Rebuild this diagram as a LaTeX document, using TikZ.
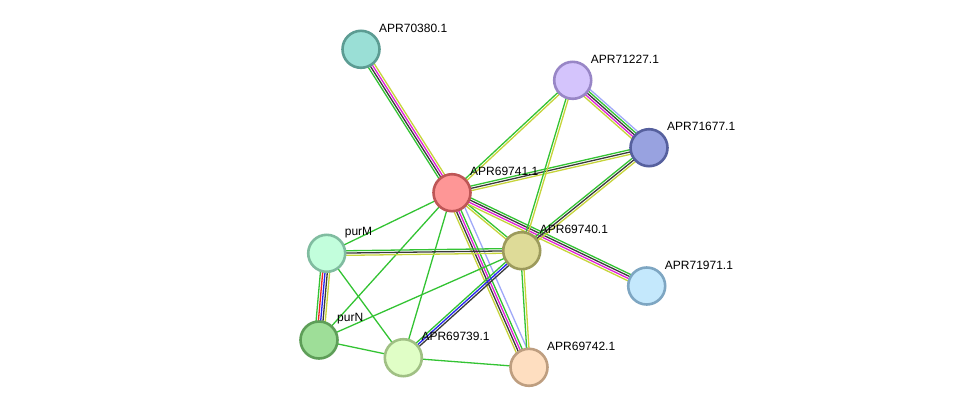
\documentclass[tikz,border=0pt]{standalone}
\usepackage{fontspec}
\setmainfont{Liberation Sans}
\usetikzlibrary{calc}
% colores de evidencia
\definecolor{cvecino}{HTML}{33C333}
\definecolor{ctexto}{HTML}{C6D43A}
\definecolor{cnegro}{HTML}{3A3A3A}
\definecolor{cmagenta}{HTML}{E020D8}
\definecolor{clila}{HTML}{9FA8F8}
\definecolor{cazul}{HTML}{2424F0}
\definecolor{crojo}{HTML}{F02424}
% colores de nodos
\definecolor{fa}{HTML}{9ADFD6}\definecolor{ba}{HTML}{5C9C93}
\definecolor{fb}{HTML}{D4C4FC}\definecolor{bb}{HTML}{9886C6}
\definecolor{fc}{HTML}{98A2E0}\definecolor{bc}{HTML}{56609E}
\definecolor{fd}{HTML}{FE9696}\definecolor{bd}{HTML}{BE5656}
\definecolor{fe}{HTML}{C2FEDC}\definecolor{be}{HTML}{80BCA0}
\definecolor{ff}{HTML}{DEDB98}\definecolor{bf}{HTML}{9C9A5C}
\definecolor{fg}{HTML}{C4E8FC}\definecolor{bg}{HTML}{7EA6C2}
\definecolor{fh}{HTML}{9EDE98}\definecolor{bh}{HTML}{5E9E58}
\definecolor{fi}{HTML}{E0FEC6}\definecolor{bi}{HTML}{A0C084}
\definecolor{fj}{HTML}{FEDEC0}\definecolor{bj}{HTML}{BE9E80}
\tikzset{
  proteina/.style={circle,minimum size=37pt,inner sep=0pt,line width=2.6pt},
  etiq/.style={font=\fontsize{12}{14}\selectfont,anchor=west,inner sep=0pt},
  traza/.style={line width=1.3pt},
}
% #1,#2 nodos, #3 cantidad de lineas, #4 colores
\newcommand\enlace[4]{%
  \foreach \col [count=\i] in {#4}{
    \pgfmathsetmacro\off{(\i-(#3+1)/2)*2.3}
    \draw[traza,draw=\col] ($(#1)!\off pt!90:(#2)$) -- ($(#2)!\off pt!-90:(#1)$);
  }}

\begin{document}
\begin{tikzpicture}[x=1pt,y=-1pt]
\useasboundingbox (0,0) rectangle (975,413);

% ---------------- posiciones ----------------
\coordinate (p70380) at (361,49.3);
\coordinate (p71227) at (572.7,80.3);
\coordinate (p71677) at (649,147.7);
\coordinate (p69741) at (452,192.7);
\coordinate (ppurM)  at (326.7,253.3);
\coordinate (p69740) at (521.7,250.7);
\coordinate (p71971) at (646.7,286);
\coordinate (ppurN)  at (319,340);
\coordinate (p69739) at (403.3,357.7);
\coordinate (p69742) at (529,367.3);

% ---------------- enlaces ----------------
\enlace{p69741}{p70380}{4}{ctexto,cmagenta,cnegro,cvecino}
\enlace{p69741}{p71227}{2}{ctexto,cvecino}
\enlace{p69741}{p71677}{3}{ctexto,cnegro,cvecino}
\enlace{p69741}{p69740}{2}{ctexto,cvecino}
\enlace{p69741}{p71971}{4}{ctexto,cmagenta,cnegro,cvecino}
\enlace{p69741}{p69742}{6}{ctexto,cnegro,cmagenta,cvecino,none,clila}
\enlace{p69741}{ppurM}{1}{cvecino}
\enlace{p69741}{ppurN}{1}{cvecino}
\enlace{p69741}{p69739}{1}{cvecino}
\enlace{p71227}{p71677}{5}{ctexto,cmagenta,cnegro,cvecino,clila}
\enlace{p71227}{p69740}{2}{cvecino,ctexto}
\enlace{p71677}{p69740}{3}{cvecino,cnegro,ctexto}
\enlace{ppurM}{p69740}{3}{ctexto,cnegro,cvecino}
\enlace{ppurM}{ppurN}{5}{cvecino,crojo,cazul,cnegro,ctexto}
\enlace{ppurM}{p69739}{1}{cvecino}
\enlace{ppurN}{p69740}{1}{cvecino}
\enlace{ppurN}{p69739}{1}{cvecino}
\enlace{p69739}{p69740}{3}{cnegro,cazul,cvecino}
\enlace{p69739}{p69742}{1}{cvecino}
\enlace{p69740}{p69742}{2}{cvecino,ctexto}

% ---------------- proteinas ----------------
\node[proteina,draw=ba,fill=fa] (n70380) at (p70380) {};
\node[proteina,draw=bb,fill=fb] (n71227) at (p71227) {};
\node[proteina,draw=bc,fill=fc] (n71677) at (p71677) {};
\node[proteina,draw=bd,fill=fd] (n69741) at (p69741) {};
\node[proteina,draw=be,fill=fe] (npurM)  at (ppurM)  {};
\node[proteina,draw=bf,fill=ff] (n69740) at (p69740) {};
\node[proteina,draw=bg,fill=fg] (n71971) at (p71971) {};
\node[proteina,draw=bh,fill=fh] (npurN)  at (ppurN)  {};
\node[proteina,draw=bi,fill=fi] (n69739) at (p69739) {};
\node[proteina,draw=bj,fill=fj] (n69742) at (p69742) {};

% ---------------- etiquetas ----------------
\node[etiq] (t70380) at ([shift={(18,-21)}]p70380) {APR70380.1};
\node[etiq] (t71227) at ([shift={(18,-21)}]p71227) {APR71227.1};
\node[etiq] (t71677) at ([shift={(18,-21)}]p71677) {APR71677.1};
\node[etiq] (t69741) at ([shift={(18,-21)}]p69741) {APR69741.1};
\node[etiq] (tpurM)  at ([shift={(18,-21)}]ppurM)  {purM};
\node[etiq] (t69740) at ([shift={(18,-21)}]p69740) {APR69740.1};
\node[etiq] (t71971) at ([shift={(18,-21)}]p71971) {APR71971.1};
\node[etiq] (tpurN)  at ([shift={(18,-21)}]ppurN)  {purN};
\node[etiq] (t69739) at ([shift={(18,-21)}]p69739) {APR69739.1};
\node[etiq] (t69742) at ([shift={(18,-21)}]p69742) {APR69742.1};

\end{tikzpicture}
\end{document}
